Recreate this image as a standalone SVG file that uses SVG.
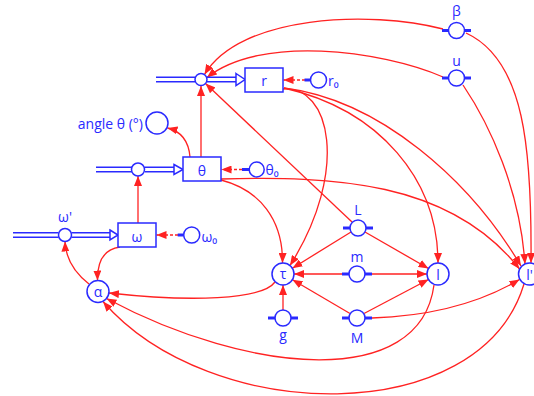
<svg xmlns="http://www.w3.org/2000/svg" width="534" height="396" viewBox="0 0 534 396">
<defs>
<marker id="ah" viewBox="0 0 10 8" refX="10" refY="4" markerWidth="10" markerHeight="8" markerUnits="userSpaceOnUse" orient="auto"><path d="M0,0 L10,4 L0,8 z" fill="#f22"/></marker>
</defs>
<style>
.c{fill:none;stroke:#f22;stroke-width:1.3;marker-end:url(#ah)}
.d{stroke-dasharray:3,2}
.n{fill:#fff;stroke:#2a2aff;stroke-width:1.5}
.p{fill:none;stroke:#2a2aff;stroke-width:1.4}
.t{stroke:#2a2aff;stroke-width:3}
text{font-family:"Open Sans","DejaVu Sans",sans-serif;font-size:14px;fill:#2a2aff;text-anchor:middle}
.s{text-anchor:start}
.e{text-anchor:end}
</style>
<rect width="534" height="396" fill="#fff"/>
<g id="connectors">
<path class="c" d="M201,157 L201,86"/>
<path class="c" d="M443,29 C370,10 240,15 204.5,74.5"/>
<path class="c" d="M443,77 C380,50 260,35 207,77.5"/>
<path class="c" d="M352,222 L205.5,83.5"/>
<path class="c" d="M190,157 Q188,133 167.5,128"/>
<path class="c" d="M138,223 L138,176"/>
<path class="c" d="M89,284 Q66,266 65,241.5"/>
<path class="c" d="M120,247 Q97,250 97.5,280.5"/>
<path class="c" d="M275,282 C262,300 190,302 109,293"/>
<path class="c" d="M434,285 C420,390 250,375 106.5,298.5"/>
<path class="c" d="M524,284 C480,430 210,425 103,301.5"/>
<path class="c" d="M283,310.5 L283,285"/>
<path class="c" d="M351,232 L292.4,268.2"/>
<path class="c" d="M343,274 L294,274"/>
<path class="c" d="M350,313.5 L292.5,279.7"/>
<path class="c" d="M221,180 C260,190 283,220 282.5,263"/>
<path class="c" d="M283,89 C330,85 350,170 290,265.5"/>
<path class="c" d="M365,232 L428.5,268.5"/>
<path class="c" d="M372,274 L427,274"/>
<path class="c" d="M364,313.5 L428.5,279.5"/>
<path class="c" d="M284,88 C380,110 438,180 438,263"/>
<path class="c" d="M466,33 C525,60 532,150 531,263"/>
<path class="c" d="M463,85 C490,125 520,190 525,264"/>
<path class="c" d="M284,88 C380,100 470,180 521,266"/>
<path class="c" d="M221,179 C330,176 450,180 519.5,269"/>
<path class="c" d="M372,318 Q460,315 519.5,279.5"/>
<path class="c d" d="M305,80 L283.5,80"/>
<path class="c d" d="M242,169.5 L221.5,169.5"/>
<path class="c d" d="M178,235 L156.5,235"/>
</g>
<g id="pipe_r">
<path class="p" d="M156,77.3 H195 M156,81.7 H195 M207,77.3 H236 M207,81.7 H236"/>
<path class="n" d="M236,73.5 L245,79.5 L236,85.5 z"/>
</g>
<g id="pipe_theta">
<path class="p" d="M96,167.3 H132 M96,171.7 H132 M145,167.3 H174 M145,171.7 H174"/>
<path class="n" d="M174,164.5 L183,169.5 L174,174.5 z"/>
</g>
<g id="pipe_omega">
<path class="p" d="M13,232.8 H58.5 M13,237.2 H58.5 M71.5,232.8 H110 M71.5,237.2 H110"/>
<path class="n" d="M110,230 L118,235 L110,240 z"/>
</g>
<g id="flow_r"><circle class="n" cx="201" cy="79.5" r="6"/></g>
<g id="r"><rect class="n" x="245" y="68" width="38" height="24"/><text x="264" y="86">r</text></g>
<g id="r0"><line class="t" x1="304.5" y1="80" x2="310.5" y2="80"/><circle class="n" cx="318.5" cy="80" r="8"/><text class="s" x="328" y="86">r₀</text></g>
<g id="beta"><line class="t" x1="442" y1="30.5" x2="471" y2="30.5"/><circle class="n" cx="456.5" cy="30.5" r="8"/><text x="456.5" y="16">β</text></g>
<g id="u"><line class="t" x1="442" y1="78" x2="471" y2="78"/><circle class="n" cx="456.5" cy="78" r="8"/><text x="456.5" y="65.5">u</text></g>
<g id="angle"><circle class="n" cx="157" cy="123" r="11"/><text class="e" x="143" y="129">angle θ (°)</text></g>
<g id="flow_theta"><circle class="n" cx="138" cy="169.5" r="6.5"/></g>
<g id="theta"><rect class="n" x="183" y="157" width="38" height="24"/><text x="202" y="175.5">θ</text></g>
<g id="theta0"><line class="t" x1="242" y1="169.5" x2="249" y2="169.5"/><circle class="n" cx="256.7" cy="169.5" r="7.5"/><text class="s" x="265.5" y="175">θ₀</text></g>
<g id="omega_prime"><circle class="n" cx="65" cy="235" r="6.5"/><text x="65" y="222">ω'</text></g>
<g id="omega"><rect class="n" x="118" y="223" width="38" height="24"/><text x="137" y="241.5">ω</text></g>
<g id="omega0"><line class="t" x1="177.7" y1="235" x2="183.7" y2="235"/><circle class="n" cx="191.7" cy="235" r="8"/><text class="s" x="201.5" y="241.5">ω₀</text></g>
<g id="alpha"><circle class="n" cx="98" cy="291.5" r="11"/><text x="98" y="296.5">α</text></g>
<g id="tau"><circle class="n" cx="283" cy="274" r="11"/><text x="283" y="278.5">τ</text></g>
<g id="L"><line class="t" x1="343" y1="228" x2="373" y2="228"/><circle class="n" cx="358" cy="228" r="8"/><text x="358" y="215">L</text></g>
<g id="m"><line class="t" x1="342" y1="274" x2="372" y2="274"/><circle class="n" cx="357" cy="274" r="8"/><text x="357" y="261.5">m</text></g>
<g id="M"><line class="t" x1="342" y1="318" x2="372" y2="318"/><circle class="n" cx="357" cy="318" r="8"/><text x="357" y="342.5">M</text></g>
<g id="g"><line class="t" x1="268" y1="318" x2="298" y2="318"/><circle class="n" cx="283" cy="318" r="8"/><text x="283" y="340">g</text></g>
<g id="l"><circle class="n" cx="438" cy="274" r="11"/><text x="438" y="279.5">l</text></g>
<g id="l_prime"><circle class="n" cx="529.5" cy="274" r="11"/><text x="529.5" y="279.5">l'</text></g>
</svg>
